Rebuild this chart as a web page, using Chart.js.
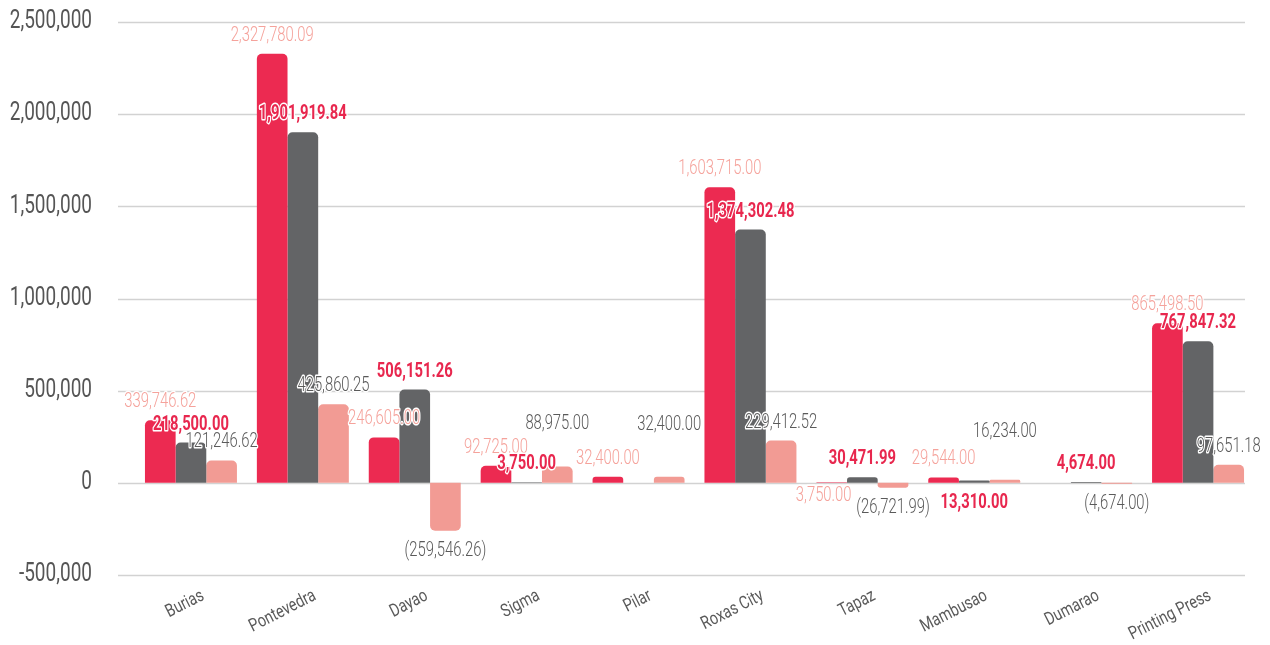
<!DOCTYPE html>
<html>
<head>
<meta charset="utf-8">
<script src="https://cdn.jsdelivr.net/npm/chart.js@4.4.1/dist/chart.umd.min.js"></script>
<style>
  html, body { margin: 0; padding: 0; background: #ffffff; }
  #wrap { width: 1270px; height: 645px; }
</style>
</head>
<body>
<div id="wrap"><canvas id="chart" width="1270" height="645"></canvas></div>
<script>
// Offices / projects on the category axis
const categories = ['Burias', 'Pontevedra', 'Dayao', 'Sigma', 'Pilar', 'Roxas City', 'Tapaz', 'Mambusao', 'Dumarao', 'Printing Press'];

// Amounts per office
const allotted = [339746.62, 2327780.09, 246605.00, 92725.00, 32400.00, 1603715.00, 3750.00, 29544.00, null, 865498.50];
const spent = [218500.00, 1901919.84, 506151.26, 3750.00, null, 1374302.48, 30471.99, 13310.00, 4674.00, 767847.32];
const balance = [121246.62, 425860.25, -259546.26, 88975.00, 32400.00, 229412.52, -26721.99, 16234.00, -4674.00, 97651.18];

// Value-axis ticks
const yTicks = [-500000, 0, 500000, 1000000, 1500000, 2000000, 2500000];

const FAMILY = "Roboto, 'Liberation Sans', sans-serif";
const COLORS = ['#EC2A51', '#636466', '#F29B94'];
const NARROW = 0.75; // horizontal squeeze that gives the condensed lettering

// Label look for each series (value text colour differs from its bar)
const labelStyles = [
  { color: '#F5A29B', font: '300 20px ' + FAMILY },
  { color: '#E8274E', font: 'bold 20px ' + FAMILY },
  { color: '#5A5A5A', font: '300 20px ' + FAMILY }
];
// Hand-tuned label nudges [dx, dy] where labels would collide
const labelNudges = {
  '0:Tapaz': [-8, 32],
  '1:Mambusao': [0, 41],
  '2:Sigma': [0, -24],
  '2:Pilar': [0, -34],
  '2:Mambusao': [0, -30]
};

function money(v) {
  const s = Math.abs(v).toLocaleString('en-US', { minimumFractionDigits: 2, maximumFractionDigits: 2 });
  return v < 0 ? '(' + s + ')' : s;
}

// Draws condensed text (optionally rotated, optionally with a white halo)
function narrowText(ctx, text, x, y, o) {
  ctx.save();
  ctx.translate(x, y);
  if (o.angle) ctx.rotate(o.angle);
  ctx.scale(o.squeeze || NARROW, 1);
  ctx.font = o.font;
  ctx.textAlign = o.align || 'center';
  ctx.textBaseline = o.baseline || 'middle';
  if (o.halo) {
    ctx.lineJoin = 'round';
    ctx.lineWidth = o.halo;
    ctx.strokeStyle = '#ffffff';
    ctx.strokeText(text, 0, 0);
  }
  ctx.fillStyle = o.color;
  ctx.fillText(text, 0, 0);
  ctx.restore();
}

// Horizontal guide lines (a little wider than the bar area) and axis labels
const axisDecor = {
  id: 'axisDecor',
  beforeDatasetsDraw(chart) {
    const { ctx, chartArea } = chart;
    const ys = chart.scales.y;
    ctx.save();
    ctx.strokeStyle = '#D2D2D2';
    ctx.lineWidth = 1.3;
    ys.ticks.forEach(t => {
      const py = Math.round(ys.getPixelForValue(t.value)) + 0.5;
      ctx.beginPath();
      ctx.moveTo(chartArea.left - 17, py);
      ctx.lineTo(chartArea.right - 9, py);
      ctx.stroke();
    });
    ctx.restore();
  },
  afterDraw(chart) {
    const { ctx, chartArea } = chart;
    const ys = chart.scales.y;
    const xs = chart.scales.x;
    ys.ticks.forEach(t => {
      narrowText(ctx, t.value.toLocaleString('en-US'), chartArea.left - 43, ys.getPixelForValue(t.value), {
        font: '25px ' + FAMILY, color: '#555555', align: 'right', squeeze: 0.76
      });
    });
    categories.forEach((c, i) => {
      narrowText(ctx, c, xs.getPixelForValue(i) + 8, chartArea.bottom + 12, {
        font: '18px ' + FAMILY, color: '#5A5A5A', align: 'right', baseline: 'top',
        angle: -27 * Math.PI / 180, squeeze: 0.8
      });
    });
  }
};

// Value labels above (or below) each bar, with a white halo
const valueLabels = {
  id: 'valueLabels',
  afterDatasetsDraw(chart) {
    const ctx = chart.ctx;
    chart.data.datasets.forEach((ds, i) => {
      const meta = chart.getDatasetMeta(i);
      const st = labelStyles[i];
      meta.data.forEach((bar, j) => {
        const v = ds.data[j];
        if (v === null || v === undefined) return;
        const nudge = labelNudges[i + ':' + categories[j]] || [0, 0];
        const x = bar.x + nudge[0];
        const y = (v >= 0 ? bar.y - 18 : bar.y + 20) + nudge[1];
        narrowText(ctx, money(v), x, y, { font: st.font, color: st.color, halo: 3, squeeze: 0.74 });
      });
    });
  }
};

const mkSet = (label, data, color) => ({
  label, data,
  backgroundColor: color,
  borderWidth: 0,
  borderRadius: 5,
  borderSkipped: 'start',
  barPercentage: 1,
  categoryPercentage: 0.822
});

new Chart(document.getElementById('chart'), {
  type: 'bar',
  data: {
    labels: categories,
    datasets: [
      mkSet('Allotted', allotted, COLORS[0]),
      mkSet('Spent', spent, COLORS[1]),
      mkSet('Balance', balance, COLORS[2])
    ]
  },
  options: {
    responsive: false,
    devicePixelRatio: 1,
    animation: false,
    layout: { padding: { left: 0, right: 16, top: 22, bottom: 70 } },
    plugins: { legend: { display: false }, tooltip: { enabled: false } },
    scales: {
      x: { type: 'category', display: false },
      y: {
        min: -500000,
        max: 2500000,
        grid: { display: false, drawTicks: false },
        border: { display: false },
        afterBuildTicks: s => { s.ticks = yTicks.map(v => ({ value: v })); },
        afterFit: s => { s.width = 135; },
        ticks: { display: false }
      }
    }
  },
  plugins: [axisDecor, valueLabels]
});
</script>
</body>
</html>
